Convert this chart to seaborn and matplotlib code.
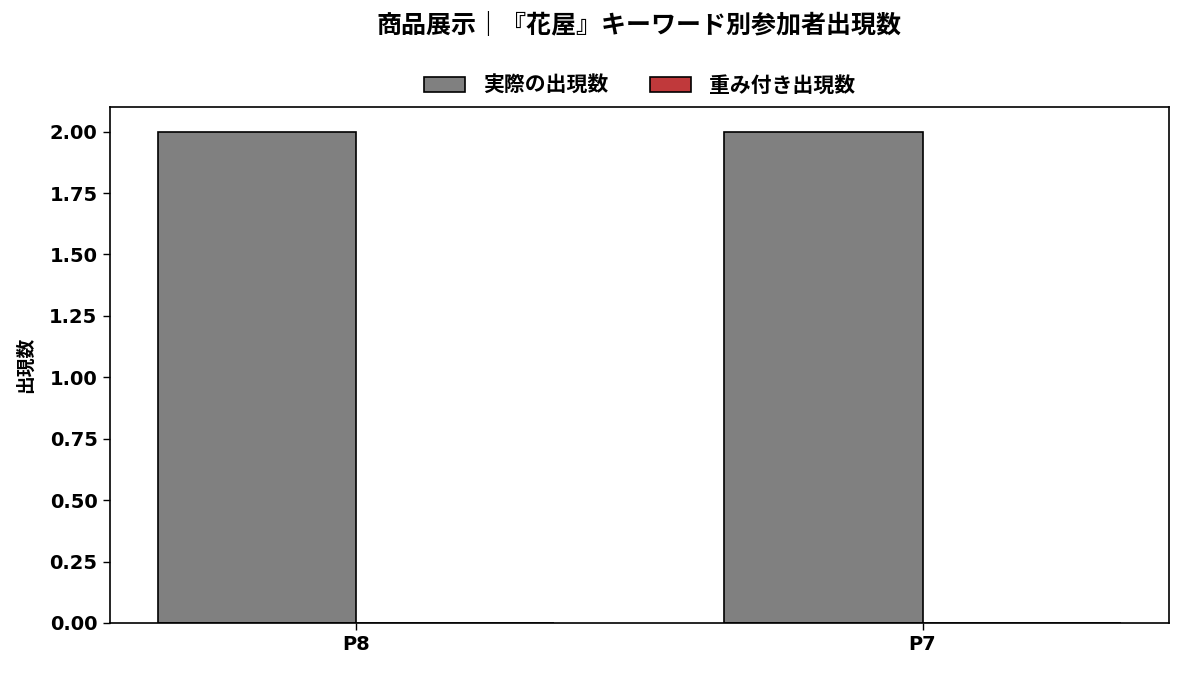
import matplotlib
matplotlib.use("Agg")
import matplotlib.pyplot as plt
import seaborn as sns
import pandas as pd

participants = ["P8", "P7"]
actual_counts = [2, 2]
weighted_counts = [0, 0]
series_names = ["実際の出現数", "重み付き出現数"]
title = "商品展示｜『花屋』キーワード別参加者出現数"
ylabel = "出現数"

sns.set_theme(style="white")
plt.rcParams['font.family'] = ['DejaVu Sans', 'Noto Sans CJK JP']
plt.rcParams['font.weight'] = 'bold'
for k in ["text.color", "axes.labelcolor", "xtick.color", "ytick.color"]:
    plt.rcParams[k] = "black"

df = pd.DataFrame({
    "participant": participants * 2,
    "series": [series_names[0]] * len(participants) + [series_names[1]] * len(participants),
    "value": actual_counts + weighted_counts,
})

fig = plt.figure(figsize=(11.83, 6.73), dpi=100)
ax = fig.add_axes([0.093, 0.0743, 0.895, 0.7667])

sns.barplot(data=df, x="participant", y="value", hue="series",
            palette=["#808080", "#c0393b"], width=0.7, edgecolor="black",
            linewidth=1.2, ax=ax, saturation=1)

yt = [0, 0.25, 0.5, 0.75, 1.0, 1.25, 1.5, 1.75, 2.0]
ax.set_xlim(-0.435, 1.435)
ax.set_ylim(0, 2.1)
ax.set_yticks(yt)
ax.set_yticklabels([f"{v:.2f}" for v in yt])
ax.set_xlabel("")
ax.set_ylabel(ylabel, fontsize=13.5, fontweight="bold", labelpad=10)
ax.tick_params(axis="both", labelsize=14, length=5, width=1, color="black", direction="out",
               bottom=True, left=True, pad=4)
for t in ax.get_xticklabels() + ax.get_yticklabels():
    t.set_fontweight("bold")
for s in ax.spines.values():
    s.set_color("black")
    s.set_linewidth(1.2)

handles, labels = ax.get_legend_handles_labels()
ax.legend(handles, labels, loc="lower center", bbox_to_anchor=(0.5, 0.985), ncol=2,
          frameon=False, prop={"size": 15, "weight": "bold"}, columnspacing=2.0,
          handlelength=2.0, handletextpad=0.85)

ax.text(0.5, 1.0 + 82 / 516, title, transform=ax.transAxes, ha="center", va="center",
        fontsize=18, fontweight="bold")

fig.savefig("out.png", dpi=100)
